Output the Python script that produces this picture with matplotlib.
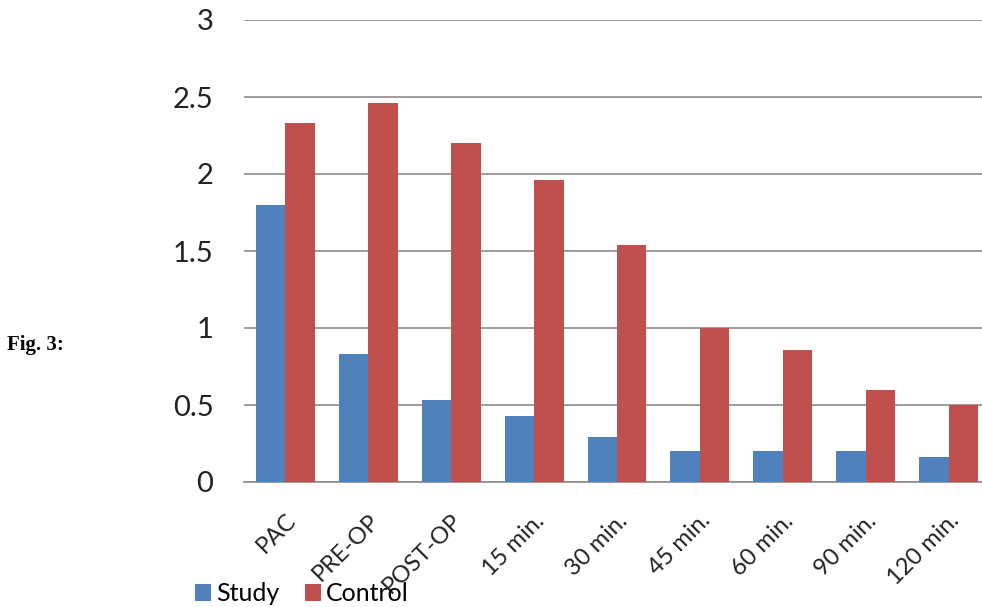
import numpy as np
import matplotlib
matplotlib.use("Agg")
import matplotlib.pyplot as plt

categories = ["PAC", "PRE-OP", "POST-OP", "15 min.", "30 min.", "45 min.",
              "60 min.", "90 min.", "120 min."]
study = [1.80, 0.83, 0.53, 0.43, 0.29, 0.20, 0.20, 0.20, 0.16]
control = [2.33, 2.46, 2.20, 1.96, 1.54, 1.00, 0.86, 0.60, 0.50]
yticks = [0, 0.5, 1, 1.5, 2, 2.5, 3]
ytick_labels = ["0", "0.5", "1", "1.5", "2", "2.5", "3"]

BLUE = "#4F81BD"
RED = "#C0504D"

plt.rcParams["font.family"] = ["Lato", "DejaVu Sans"]

fig = plt.figure(figsize=(9.82, 6.07), dpi=100)
# axes run a little past the right edge, like the cropped original
ax = fig.add_axes([244 / 982, 125 / 607, 746 / 982, 462 / 607])

x = np.arange(len(categories))
w = 0.355
ax.bar(x - w / 2, study, width=w, color=BLUE, label="Study", zorder=3)
ax.bar(x + w / 2, control, width=w, color=RED, label="Control", zorder=3)

ax.set_xlim(-0.5, len(categories) - 0.5)
ax.set_ylim(0, 3)
ax.set_yticks(yticks)
ax.set_yticklabels(ytick_labels, fontsize=21, color="#222222")
ax.yaxis.grid(True, color="#8c8c8c", linewidth=1.2, zorder=0)
ax.tick_params(axis="y", length=0, pad=22)
ax.tick_params(axis="x", length=0, pad=20)
ax.set_xticks(x)
ax.set_xticklabels(categories, rotation=45, ha="right", va="top",
                   rotation_mode="anchor", fontsize=17, color="#222222")

for s in ["top", "right", "left"]:
    ax.spines[s].set_visible(False)
ax.spines["bottom"].set_color("#8c8c8c")
ax.spines["bottom"].set_linewidth(1.2)

fig.legend(loc="lower left", bbox_to_anchor=(185 / 982, -8 / 607), ncol=2,
           frameon=False, fontsize=18, handlelength=0.65, handleheight=0.65,
           handletextpad=0.2, columnspacing=1.0, borderaxespad=0)

fig.text(7 / 982, 1 - 345 / 607, "Fig. 3:", fontsize=15, fontweight="bold",
         family="Liberation Serif", va="center", ha="left")

fig.savefig("out.png", dpi=100)
